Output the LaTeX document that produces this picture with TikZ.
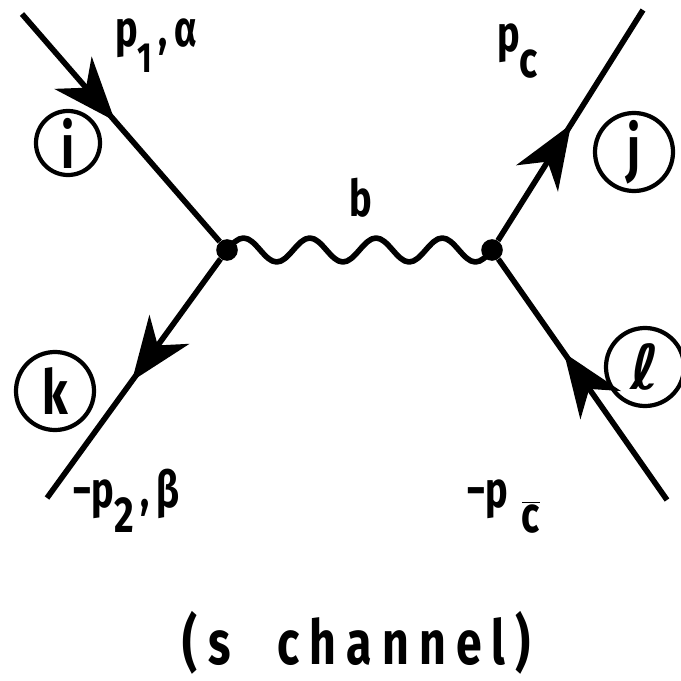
\documentclass[tikz,border=0pt]{standalone}
\usepackage{fontspec}
\setmainfont{Fira Sans}
\newfontfamily\scriptell{DejaVu Sans}
\usepackage{tikz}
\usetikzlibrary{decorations.markings}
\newcommand{\lsub}[1]{\raisebox{-0.5em}{#1}}
\newcommand{\narrow}[1]{\scalebox{0.75}[1]{#1}}

\begin{document}
\begin{tikzpicture}[x=0.025cm, y=-0.025cm,
  vertex/.style={circle, fill=black, inner sep=0pt, minimum size=5.4mm},
  leg/.style={line width=4pt, postaction={decorate},
    decoration={markings, mark=at position #1 with
      {\fill (0.3cm,0) -- (-1.3cm,0.62cm) -- (-0.8cm,0)
         -- (-1.3cm,-0.62cm) -- cycle;}}},
  photon/.style={line width=4pt, line join=round},
  idx/.style={circle, draw, line width=3pt, minimum size=19.5mm,
    inner sep=0pt, font=\fontsize{44}{46}\selectfont\bfseries},
  lbl/.style={font=\fontsize{36}{38}\selectfont\bfseries, inner sep=0pt},
]
  \useasboundingbox (0,0) rectangle (681,681);

  % vertices and free ends
  \node[vertex] (vl) at (227,250) {};
  \node[vertex] (vr) at (492,250) {};
  \coordinate (ei) at (22,14);
  \coordinate (ek) at (47,498);
  \coordinate (ej) at (643,10);
  \coordinate (el) at (667,500);

  % legs
  \draw[leg=0.43] (ei) -- (vl);
  \draw[leg=0.47] (vl) -- (ek);
  \draw[leg=0.46] (vr) -- (ej);
  \draw[leg=0.57] (el) -- (vr);

  % exchanged line, four wiggles
  \draw[photon] (vl.center)
    \foreach \w in {1,...,4} {
      sin ++(16.56,-12) cos ++(16.56,12) sin ++(16.56,12) cos ++(16.56,-12)
    } -- (vr.center);
  \node[lbl, anchor=base] (lb) at (361,217) {\narrow{b}};

  % index circles
  \node[idx, minimum size=16mm] (ci) at (68,143) {\narrow{i}};
  \node[idx] (cj) at (634,152) {\narrow{j}};
  \node[idx] (ck) at (55,391) {\narrow{k}};
  \node[idx] (cl) at (645,367) {\scriptell\bfseries ℓ};

  % momentum labels
  \node[lbl, anchor=base west] (lp1) at (115,47)
    {\narrow{p\lsub{\fontsize{30}{32}\selectfont 1}\,,\,α}};
  \node[lbl, anchor=base west] (lpc) at (497,52) {\narrow{p\lsub{c}}};
  \node[lbl, anchor=base west] (lp2) at (72,507) {\narrow{−p\lsub{2}\,,\,β}};
  \node[lbl, anchor=base west] (lpcb) at (466,507)
    {\narrow{−p\hspace{0.35em}\lsub{$\overline{\mbox{c}}$}}};

  % caption
  \node[lbl, anchor=base, font=\fontsize{44}{46}\selectfont\bfseries] (cap) at (357,664)
    {\narrow{\addfontfeatures{LetterSpace=22}(s\hspace{1em}channel)}};
\end{tikzpicture}
\end{document}
